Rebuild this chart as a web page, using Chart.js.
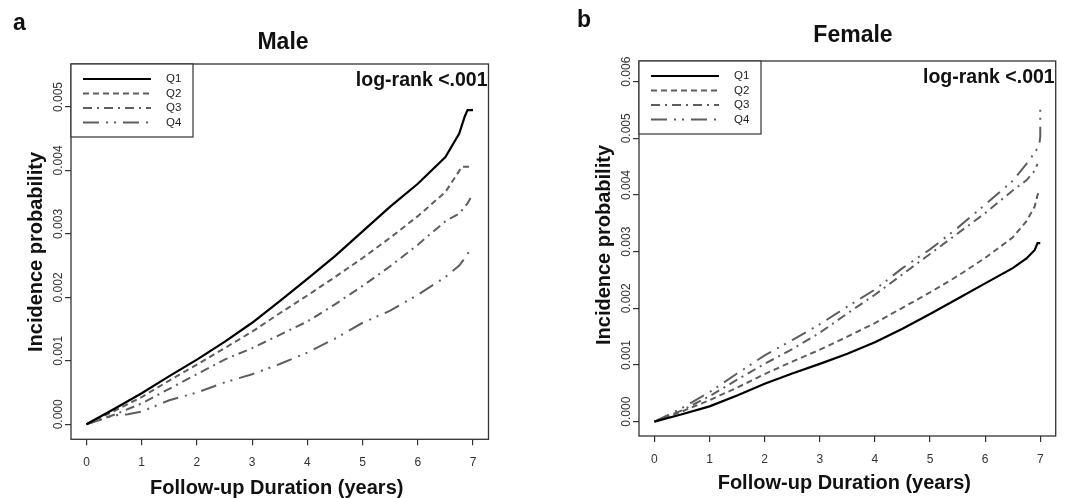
<!DOCTYPE html>
<html>
<head>
<meta charset="utf-8">
<script src="https://cdn.jsdelivr.net/npm/chart.js@4.4.1/dist/chart.umd.min.js"></script>
<style>
  body { margin: 0; background: #fff; }
  #wrap { position: relative; width: 1067px; height: 498px; }
  canvas { position: absolute; top: 0; }
</style>
</head>
<body>
<div id="wrap">
  <canvas id="male" width="533" height="498" style="left:0px"></canvas>
  <canvas id="female" width="533" height="498" style="left:534px"></canvas>
</div>
<script>
// groups
const seriesNames = ["Q1", "Q2", "Q3", "Q4"];

// x axis (years)
const xTicks = [0, 1, 2, 3, 4, 5, 6, 7];
const xTickLabels = ["0", "1", "2", "3", "4", "5", "6", "7"];

// y axis ticks
const yTicksMale = [0, 0.001, 0.002, 0.003, 0.004, 0.005];
const yTickLabelsMale = ["0.000", "0.001", "0.002", "0.003", "0.004", "0.005"];
const yTicksFemale = [0, 0.001, 0.002, 0.003, 0.004, 0.005, 0.006];
const yTickLabelsFemale = ["0.000", "0.001", "0.002", "0.003", "0.004", "0.005", "0.006"];

// Male
const maleQ1Time = [0, 0.5, 1, 1.5, 2, 2.5, 3, 3.5, 4, 4.5, 5, 5.5, 6, 6.5, 6.75, 6.85, 6.9, 7.0];
const maleQ1 = [0, 0.00024, 0.00049, 0.00076, 0.00102, 0.0013, 0.0016, 0.00194, 0.00229, 0.00265, 0.00304, 0.00343, 0.00379, 0.00421, 0.00458, 0.00485, 0.00495, 0.00495];
const maleQ2Time = [0, 0.5, 1, 1.5, 2, 2.5, 3, 3.5, 4, 4.5, 5, 5.5, 6, 6.5, 6.8, 7.0];
const maleQ2 = [0, 0.00021, 0.00043, 0.00069, 0.00094, 0.0012, 0.00146, 0.00175, 0.00203, 0.00232, 0.00262, 0.00294, 0.00328, 0.00366, 0.00406, 0.00406];
const maleQ3Time = [0, 0.5, 1, 1.5, 2, 2.5, 3, 3.5, 4, 4.5, 5, 5.5, 6, 6.5, 6.75, 6.9, 6.97];
const maleQ3 = [0, 0.00015, 0.00033, 0.00056, 0.00079, 0.00102, 0.0012, 0.00141, 0.00162, 0.00189, 0.00218, 0.00249, 0.00283, 0.0032, 0.00332, 0.00348, 0.00359];
const maleQ4Time = [0, 0.5, 0.75, 1, 1.5, 2, 2.5, 3, 3.5, 4, 4.5, 5, 5.5, 6, 6.5, 6.75, 6.9, 6.95];
const maleQ4 = [0, 0.00014, 0.00016, 0.0002, 0.00038, 0.0005, 0.00066, 0.00079, 0.00095, 0.00113, 0.00135, 0.0016, 0.00179, 0.00204, 0.00232, 0.0025, 0.00268, 0.00277];

// Female
const femaleQ1Time = [0, 0.5, 1, 1.5, 2, 2.5, 3, 3.5, 4, 4.5, 5, 5.5, 6, 6.5, 6.75, 6.9, 6.95, 7.0];
const femaleQ1 = [0, 0.00013, 0.00027, 0.00046, 0.00067, 0.00085, 0.00102, 0.0012, 0.0014, 0.00164, 0.0019, 0.00217, 0.00244, 0.00271, 0.00288, 0.00303, 0.00315, 0.00315];
const femaleQ2Time = [0, 0.5, 1, 1.5, 2, 2.5, 3, 3.5, 4, 4.5, 5, 5.5, 6, 6.5, 6.75, 6.9, 6.95, 7.0];
const femaleQ2 = [0, 0.00018, 0.00038, 0.0006, 0.00084, 0.00106, 0.00127, 0.0015, 0.00174, 0.00201, 0.00228, 0.00257, 0.00289, 0.00325, 0.00354, 0.0038, 0.004, 0.00409];
const femaleQ3Time = [0, 0.5, 1, 1.5, 2, 2.5, 3, 3.5, 4, 4.5, 5, 5.5, 6, 6.5, 6.75, 6.9, 6.95];
const femaleQ3 = [0, 0.0002, 0.00045, 0.00074, 0.00102, 0.00128, 0.00157, 0.00191, 0.00224, 0.0026, 0.00296, 0.00332, 0.00368, 0.00408, 0.00426, 0.00443, 0.00455];
const femaleQ4Time = [0, 0.5, 1, 1.5, 2, 2.5, 3, 3.5, 4, 4.5, 5, 5.5, 6, 6.5, 6.75, 6.9, 6.98, 7.0, 7.0];
const femaleQ4 = [0, 0.00024, 0.00052, 0.00085, 0.00117, 0.00144, 0.00172, 0.00203, 0.00233, 0.00271, 0.00304, 0.00342, 0.00383, 0.00425, 0.00455, 0.00475, 0.00488, 0.00503, 0.00555];

// line styles
const lineColors = ["#000000", "#5e5e5e", "#5e5e5e", "#5e5e5e"];
const lineWidths = [2.2, 2, 2, 2];
const lineDashes = [[], [6, 4], [9, 5, 2, 5], [16, 7, 2, 6, 2, 7]];

const FONT = "'Liberation Sans', Arial, sans-serif";

// everything drawn around the plot box
const decorPlugin = {
  id: "decor",
  afterDraw(chart) {
    const o = chart.options.plugins.decor;
    const ctx = chart.ctx;
    const a = chart.chartArea;
    ctx.save();

    // box
    ctx.strokeStyle = "#333";
    ctx.lineWidth = 1.3;
    ctx.setLineDash([]);
    ctx.strokeRect(a.left, a.top, a.right - a.left, a.bottom - a.top);

    // y tick labels, rotated
    const yScale = chart.scales.y;
    ctx.fillStyle = "#333";
    ctx.font = "12px " + FONT;
    ctx.textAlign = "center";
    ctx.textBaseline = "middle";
    o.yTicks.forEach((v, i) => {
      const py = yScale.getPixelForValue(v) - 10;
      ctx.save();
      ctx.translate(a.left - 12.5, py);
      ctx.rotate(-Math.PI / 2);
      ctx.fillText(o.yTickLabels[i], 0, 0);
      ctx.restore();
    });

    // axis titles
    ctx.fillStyle = "#111";
    ctx.font = "bold 20px " + FONT;
    ctx.save();
    ctx.translate(a.left - 35, o.yTitleY);
    ctx.rotate(-Math.PI / 2);
    ctx.textBaseline = "middle";
    ctx.fillText("Incidence probability", 0, 0);
    ctx.restore();
    ctx.textBaseline = "alphabetic";
    ctx.fillText("Follow-up Duration (years)", (a.left + a.right) / 2 - 3, a.bottom + o.xTitleGap);

    // panel title and letter
    ctx.font = "bold 23px " + FONT;
    ctx.fillText(o.title, o.titleX, o.titleY);
    ctx.textAlign = "left";
    ctx.fillText(o.letter, o.letterX, o.letterY);

    // log-rank
    ctx.font = "bold 19.5px " + FONT;
    ctx.textAlign = "right";
    ctx.fillText("log-rank <.001", a.right - 1, a.top + 22);

    // legend
    const lx = a.left, ly = a.top;
    ctx.fillStyle = "#fff";
    ctx.fillRect(lx, ly, 122, 73);
    ctx.strokeStyle = "#333";
    ctx.lineWidth = 1.2;
    ctx.strokeRect(lx, ly, 122, 73);
    ctx.font = "11.5px " + FONT;
    ctx.textAlign = "left";
    ctx.textBaseline = "middle";
    chart.data.datasets.forEach((ds, i) => {
      const ry = ly + 15 + i * 14.5;
      ctx.strokeStyle = ds.borderColor;
      ctx.lineWidth = ds.borderWidth;
      ctx.setLineDash(ds.borderDash);
      ctx.beginPath();
      ctx.moveTo(lx + 12, ry);
      ctx.lineTo(lx + 80, ry);
      ctx.stroke();
      ctx.fillStyle = "#222";
      ctx.fillText(ds.label, lx + 95, ry);
    });

    ctx.restore();
  }
};

function makePanel(id, times, values, yTicks, yTickLabels, yMin, yMax, lay, decor) {
  const datasets = seriesNames.map((name, i) => ({
    label: name,
    data: times[i].map((t, k) => ({ x: t, y: values[i][k] })),
    borderColor: lineColors[i],
    borderWidth: lineWidths[i],
    borderDash: lineDashes[i],
    pointRadius: 0,
    fill: false,
    tension: 0
  }));

  decor.yTicks = yTicks;
  decor.yTickLabels = yTickLabels;

  return new Chart(document.getElementById(id), {
    type: "line",
    data: { datasets: datasets },
    plugins: [decorPlugin],
    options: {
      responsive: false,
      animation: false,
      parsing: true,
      layout: { autoPadding: false, padding: { left: 0, top: lay.top, right: lay.right, bottom: 0 } },
      plugins: { legend: { display: false }, tooltip: { enabled: false }, decor: decor },
      scales: {
        x: {
          type: "linear",
          min: -0.28,
          max: 7.28,
          afterBuildTicks: (s) => { s.ticks = xTicks.map((v) => ({ value: v })); },
          afterFit: (s) => { s.height = lay.xHeight; },
          ticks: {
            callback: (v) => xTickLabels[xTicks.indexOf(v)],
            color: "#333",
            font: { family: FONT, size: 12 },
            padding: 10,
            maxRotation: 0
          },
          grid: { drawOnChartArea: false, drawTicks: true, tickLength: 6, color: "#333", lineWidth: 1.2 },
          border: { display: false }
        },
        y: {
          type: "linear",
          min: yMin,
          max: yMax,
          afterBuildTicks: (s) => { s.ticks = yTicks.map((v) => ({ value: v })); },
          afterFit: (s) => { s.width = lay.yWidth; },
          ticks: { display: false },
          grid: { drawOnChartArea: false, drawTicks: true, tickLength: 6, color: "#333", lineWidth: 1.2 },
          border: { display: false }
        }
      }
    }
  });
}

makePanel(
  "male",
  [maleQ1Time, maleQ2Time, maleQ3Time, maleQ4Time],
  [maleQ1, maleQ2, maleQ3, maleQ4],
  yTicksMale, yTickLabelsMale, -0.000236, 0.005677,
  { top: 64, right: 44.5, yWidth: 71, xHeight: 58.7 },
  { title: "Male", titleX: 283, titleY: 48.5, letter: "a", letterX: 13, letterY: 29.5, yTitleY: 252, xTitleGap: 54.5 }
);

makePanel(
  "female",
  [femaleQ1Time, femaleQ2Time, femaleQ3Time, femaleQ4Time],
  [femaleQ1, femaleQ2, femaleQ3, femaleQ4],
  yTicksFemale, yTickLabelsFemale, -0.000253, 0.006365,
  { top: 61, right: 11.3, yWidth: 105, xHeight: 62 },
  { title: "Female", titleX: 319, titleY: 42, letter: "b", letterX: 43, letterY: 26.7, yTitleY: 245, xTitleGap: 52.5 }
);
</script>
</body>
</html>
